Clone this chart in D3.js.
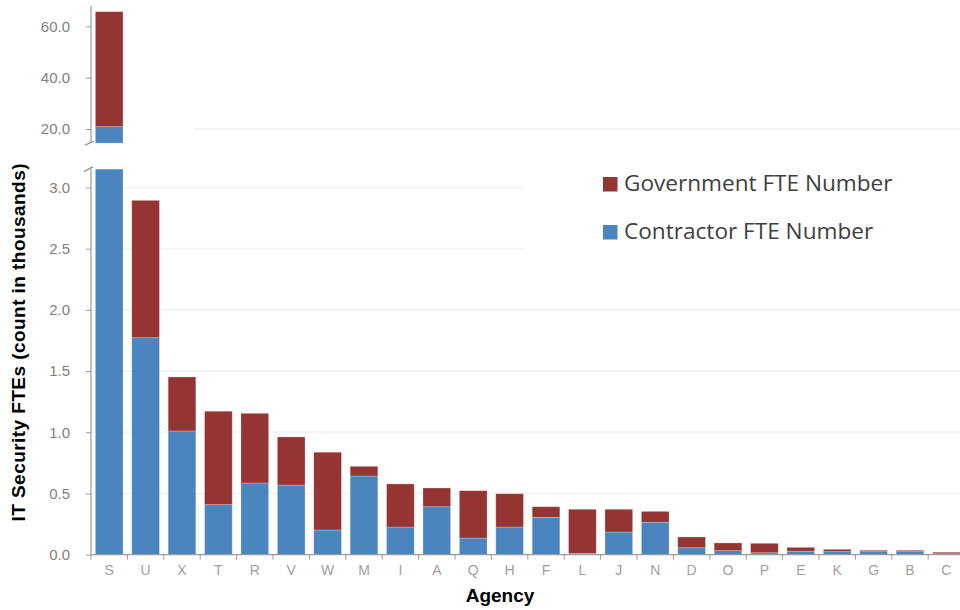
<!DOCTYPE html>
<html>
<head>
<meta charset="utf-8">
<script src="https://cdn.jsdelivr.net/npm/d3@7"></script>
<style>
  html, body { margin: 0; padding: 0; background: #ffffff; }
  svg { display: block; }
</style>
</head>
<body>
<svg id="chart" width="960" height="610"></svg>
<script>
// ---- data (counts in thousands) ----
const categories = ["S","U","X","T","R","V","W","M","I","A","Q","H","F","L","J","N","D","O","P","E","K","G","B","C"];
const contractorFTE = [20.9,1.773,1.011,0.409,0.586,0.569,0.202,0.643,0.226,0.392,0.136,0.226,0.305,0.011,0.185,0.265,0.057,0.033,0.016,0.028,0.025,0.025,0.025,0.008];
const governmentFTE = [44.8,1.122,0.441,0.763,0.569,0.393,0.635,0.079,0.352,0.153,0.387,0.272,0.087,0.360,0.186,0.089,0.088,0.063,0.077,0.032,0.019,0.011,0.011,0.012];
const seriesNames = ["Government FTE Number","Contractor FTE Number"];
const bottomTicks = [0,0.5,1.0,1.5,2.0,2.5,3.0];
const topTicks = [20,40,60];

const colors = { gov: "#953533", con: "#4a85bf" };

const svg = d3.select("#chart");
const font = "'Liberation Sans', Arial, sans-serif";

// ---- scales ----
const x = d3.scaleBand().domain(categories).range([91, 964.6]).paddingInner(0.24).paddingOuter(0.12);
const yBot = d3.scaleLinear().domain([0, 3]).range([554.7, 187.5]);
const botMax = 3.15;
const yTop = d3.scaleLinear().domain([20, 60]).range([129, 26.3]);
const topMin = 14.5, topMax = 68;

const data = categories.map((c, i) => ({ cat: c, con: contractorFTE[i], gov: governmentFTE[i] }));

// ---- gridlines ----
const grid = svg.append("g");
grid.selectAll("line.gb").data(bottomTicks.filter(d => d > 0)).enter().append("line")
  .attr("x1", 91).attr("x2", 960)
  .attr("y1", d => yBot(d)).attr("y2", d => yBot(d))
  .attr("stroke", "#f3f3f3").attr("stroke-width", 2);
grid.selectAll("line.gt").data([topTicks[0]]).enter().append("line")
  .attr("x1", 194).attr("x2", 960)
  .attr("y1", d => yTop(d)).attr("y2", d => yTop(d))
  .attr("stroke", "#f3f3f3").attr("stroke-width", 2);

// legend background covering gridlines
svg.append("rect").attr("x", 524).attr("y", 138).attr("width", 436).attr("height", 150).attr("fill", "#ffffff");

// ---- bottom panel bars (clipped) ----
const clip = v => Math.min(v, botMax);
const barStroke = "rgba(255,255,255,0.3)";
const bars = svg.append("g");
data.forEach(d => {
  const c0 = 0, c1 = clip(d.con), g1 = clip(d.con + d.gov);
  bars.append("rect")
    .attr("x", x(d.cat)).attr("width", x.bandwidth())
    .attr("y", yBot(c1)).attr("height", yBot(c0) - yBot(c1))
    .attr("fill", colors.con).attr("stroke", barStroke).attr("stroke-width", 0.8);
  if (g1 > c1) {
    bars.append("rect")
      .attr("x", x(d.cat)).attr("width", x.bandwidth())
      .attr("y", yBot(g1)).attr("height", yBot(c1) - yBot(g1))
      .attr("fill", colors.gov).attr("stroke", barStroke).attr("stroke-width", 0.8);
  }
});

// ---- top panel bars (only those exceeding bottom range) ----
data.filter(d => d.con + d.gov > botMax).forEach(d => {
  const c1 = Math.max(d.con, topMin), t = d.con + d.gov;
  if (c1 > topMin) {
    bars.append("rect")
      .attr("x", x(d.cat)).attr("width", x.bandwidth())
      .attr("y", yTop(c1)).attr("height", yTop(topMin) - yTop(c1))
      .attr("fill", colors.con).attr("stroke", barStroke).attr("stroke-width", 0.8);
  }
  if (t > topMin) {
    bars.append("rect")
      .attr("x", x(d.cat)).attr("width", x.bandwidth())
      .attr("y", yTop(t)).attr("height", yTop(c1) - yTop(t))
      .attr("fill", colors.gov).attr("stroke", barStroke).attr("stroke-width", 0.8);
  }
});

// ---- axes ----
const axisColor = "#9a9a9a";
function styleAxis(g, textColor, size) {
  g.select(".domain").remove();
  g.selectAll(".tick line").attr("stroke", axisColor).attr("stroke-width", 1);
  g.selectAll(".tick text").attr("fill", textColor).style("font-family", font).style("font-size", size + "px");
}

// bottom y axis
const gyb = svg.append("g").attr("transform", "translate(91,0)")
  .call(d3.axisLeft(yBot).tickValues(bottomTicks).tickFormat(d3.format(".1f")).tickSize(5).tickPadding(16));
styleAxis(gyb, "#7f7f7f", 15);
svg.append("line").attr("x1", 91).attr("x2", 91).attr("y1", yBot(botMax) - 1).attr("y2", yBot(0))
  .attr("stroke", axisColor).attr("stroke-width", 1.2);

// top y axis
const gyt = svg.append("g").attr("transform", "translate(91,0)")
  .call(d3.axisLeft(yTop).tickValues(topTicks).tickFormat(d3.format(".1f")).tickSize(5).tickPadding(16));
styleAxis(gyt, "#7f7f7f", 15);
svg.append("line").attr("x1", 91).attr("x2", 91).attr("y1", yTop(topMax)).attr("y2", yTop(topMin))
  .attr("stroke", axisColor).attr("stroke-width", 1.2);

// axis break marks
svg.append("line").attr("x1", 85).attr("y1", yTop(topMin) + 2).attr("x2", 94).attr("y2", yTop(topMin) - 2)
  .attr("stroke", axisColor).attr("stroke-width", 1.5);
svg.append("line").attr("x1", 84).attr("y1", yBot(botMax) + 2.5).attr("x2", 93).attr("y2", yBot(botMax) - 2.5)
  .attr("stroke", axisColor).attr("stroke-width", 1.5);

// x axis
const gx = svg.append("g").attr("transform", `translate(0,${yBot(0)})`)
  .call(d3.axisBottom(x).tickSize(0).tickPadding(10));
styleAxis(gx, "#a0a0a0", 14);
svg.append("line").attr("x1", x.range()[0]).attr("x2", x.range()[1]).attr("y1", yBot(0)).attr("y2", yBot(0))
  .attr("stroke", axisColor).attr("stroke-width", 1.2);
const boundaries = categories.map(c => x(c) - x.step() * x.paddingInner() / 2).concat([x.range()[1]]);
svg.append("g").selectAll("line").data(boundaries).enter().append("line")
  .attr("x1", d => d).attr("x2", d => d).attr("y1", yBot(0)).attr("y2", yBot(0) + 5)
  .attr("stroke", axisColor).attr("stroke-width", 1);

// axis titles
svg.append("text").attr("x", 500).attr("y", 602).attr("text-anchor", "middle")
  .style("font-family", font).style("font-weight", "bold").style("font-size", "19px").attr("fill", "#000")
  .text("Agency");
svg.append("text").attr("transform", "translate(25,342.5) rotate(-90)").attr("text-anchor", "middle")
  .style("font-family", font).style("font-weight", "bold").style("font-size", "19px").attr("fill", "#000")
  .attr("textLength", 358).attr("lengthAdjust", "spacing")
  .text("IT Security FTEs (count in thousands)");

// ---- legend ----
const legend = svg.append("g");
const legendItems = [
  { name: seriesNames[0], color: colors.gov, y: 177 },
  { name: seriesNames[1], color: colors.con, y: 225 }
];
legendItems.forEach(it => {
  legend.append("rect").attr("x", 603).attr("y", it.y).attr("width", 14.5).attr("height", 14.5).attr("fill", it.color);
  legend.append("text").attr("x", 624).attr("y", it.y + 14.3)
    .style("font-family", "'Open Sans', sans-serif").style("font-size", "22.6px").attr("fill", "#404040")
    .text(it.name);
});
</script>
</body>
</html>
